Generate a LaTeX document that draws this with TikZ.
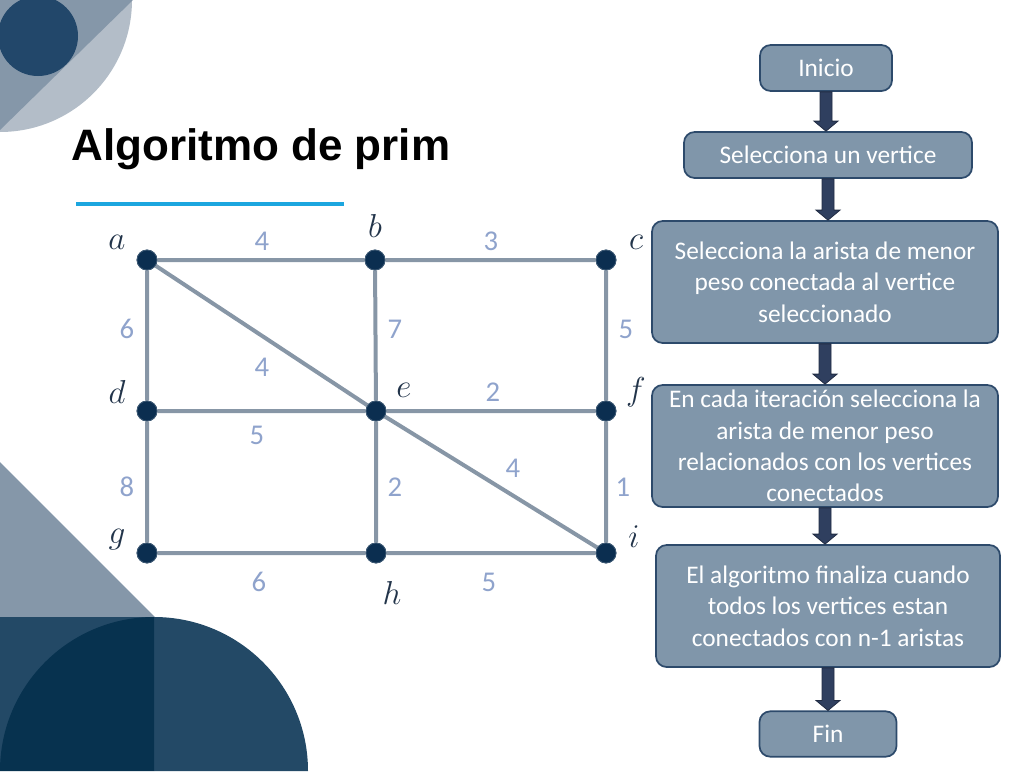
\documentclass[tikz,border=0pt]{standalone}
\usepackage{fontspec}
\setmainfont{Carlito}
\newfontfamily\titlefont{Liberation Sans}
\usetikzlibrary{calc}
\definecolor{boxfill}{HTML}{8096AA}
\definecolor{boxline}{HTML}{2D4A6B}
\definecolor{arrowfill}{HTML}{2F3F5F}
\definecolor{edgecol}{HTML}{8796A6}
\definecolor{vertcol}{HTML}{0B2E50}
\definecolor{weightcol}{HTML}{8FA3CC}
\definecolor{labelcol}{HTML}{22344A}
\definecolor{decolight}{HTML}{B3BDC8}
\definecolor{decomid}{HTML}{8597A9}
\definecolor{deconavy}{HTML}{22476A}
\definecolor{decodark}{HTML}{234966}
\definecolor{decodeep}{HTML}{07324F}
\definecolor{bluebar}{HTML}{1CA6DF}
\begin{document}
\begin{tikzpicture}[x=0.75pt,y=-0.75pt,
  flowbox/.style={draw=boxline, line width=1.3pt, fill=boxfill, rounded corners=8pt,
    text=white, align=center, font=\fontsize{19}{23.5}\selectfont, inner sep=0pt},
  vert/.style={circle, fill=vertcol, draw=vertcol!80!white, line width=0.6pt, minimum size=15pt, inner sep=0pt},
  edge/.style={draw=edgecol, line width=3pt},
  wlabel/.style={text=weightcol, font=\fontsize{21.5}{25}\selectfont},
  vlabel/.style={text=labelcol, font=\fontsize{24}{28}\selectfont},
  blockarrow/.style={draw=arrowfill!70!black, fill=arrowfill, line width=0.6pt}
]
\useasboundingbox (0,0) rectangle (1028,771);
% decorations top-left
\fill[decolight] (0,0) -- (132,0) arc[start angle=0, end angle=90, radius=132] -- cycle;
\fill[decomid] (0,0) -- (133,0) -- (0,130) -- cycle;
\fill[deconavy] (38,36) circle[radius=40];
% decorations bottom-left
\fill[decomid] (0,462) -- (155,617) -- (0,617) -- cycle;
\fill[decodark] (0,617) rectangle (154,771);
\fill[decodark] (154,771) -- (154,617) arc[start angle=270, end angle=360, radius=154] -- cycle;
\fill[decodeep] (154,771) -- (154,617) arc[start angle=270, end angle=180, radius=154] -- cycle;
% title
\node[anchor=base west, inner sep=0pt, font=\titlefont\bfseries\fontsize{33}{38}\selectfont] (title) at (71,160) {Algoritmo de prim};
\draw[bluebar, line width=3pt] (76,204) -- (344,204);
% graph
\node[vert] (a) at (147,260) {};
\node[vert] (b) at (375,260) {};
\node[vert] (c) at (606,260) {};
\node[vert] (d) at (147,411) {};
\node[vert] (e) at (376,411) {};
\node[vert] (f) at (606,411) {};
\node[vert] (g) at (147,553) {};
\node[vert] (h) at (376,553) {};
\node[vert] (i) at (606,553) {};
\path[edge] (a) -- (b) (b) -- (c) (a) -- (d) (d) -- (g) (b) -- (e) (e) -- (h)
  (c) -- (f) (f) -- (i) (d) -- (e) (e) -- (f) (g) -- (h) (h) -- (i) (a) -- (e) (e) -- (i);
\foreach \n in {a,b,c,d,e,f,g,h,i} {\node[vert] at (\n) {};}
% vertex labels
\node[vlabel] (la) at (117,242) {$a$};
\node[vlabel] (lb) at (375,226) {$b$};
\node[vlabel] (lc) at (636,242) {$c$};
\node[vlabel] (ld) at (117,392) {$d$};
\node[vlabel] (le) at (404,390) {$e$};
\node[vlabel] (lf) at (636,392) {$f$};
\node[vlabel] (lg) at (117,540) {$g$};
\node[vlabel] (lh) at (392,593) {$h$};
\node[vlabel] (li) at (634,537) {$i$};
% weights
\node[wlabel] (w1) at (262,241) {4};
\node[wlabel] (w2) at (491,241) {3};
\node[wlabel] (w3) at (127,329) {6};
\node[wlabel] (w4) at (395,329) {7};
\node[wlabel] (w5) at (626,329) {5};
\node[wlabel] (w6) at (262,367) {4};
\node[wlabel] (w7) at (493,392) {2};
\node[wlabel] (w8) at (257,435) {5};
\node[wlabel] (w9) at (127,487) {8};
\node[wlabel] (w10) at (395,487) {2};
\node[wlabel] (w11) at (513,468) {4};
\node[wlabel] (w12) at (623,487) {1};
\node[wlabel] (w13) at (259,582) {6};
\node[wlabel] (w14) at (489,582) {5};
% flowchart
\node[flowbox, minimum width=99pt, minimum height=34.5pt] (s1) at (826,68) {Inicio};
\node[flowbox, minimum width=216pt, minimum height=34.5pt] (s2) at (828,155) {Selecciona un vertice};
\node[flowbox, minimum width=259.5pt, minimum height=91.5pt] (s3) at (825,282) {Selecciona la arista de menor\\peso conectada al vertice\\seleccionado};
\node[flowbox, minimum width=259.5pt, minimum height=91.5pt] (s4) at (825,446) {En cada iteración selecciona la\\arista de menor peso\\relacionados con los vertices\\conectados};
\node[flowbox, minimum width=258pt, minimum height=91.5pt] (s5) at (828,606) {El algoritmo finaliza cuando\\todos los vertices estan\\conectados con n-1 aristas};
\node[flowbox, minimum width=102.75pt, minimum height=34pt] (s6) at (828,734) {Fin};
% block arrows
\foreach \u/\v in {s1/s2,s2/s3,s3/s4,s4/s5,s5/s6} {
  \draw[blockarrow] let \p1=(\u.south), \p2=(\v.north) in
    (\x1-4.5pt,\y1) -- (\x1-4.5pt,\y2+7.5pt) -- (\x1-9pt,\y2+7.5pt) -- (\x1,\y2) --
    (\x1+9pt,\y2+7.5pt) -- (\x1+4.5pt,\y2+7.5pt) -- (\x1+4.5pt,\y1) -- cycle;
}
\end{tikzpicture}
\end{document}
